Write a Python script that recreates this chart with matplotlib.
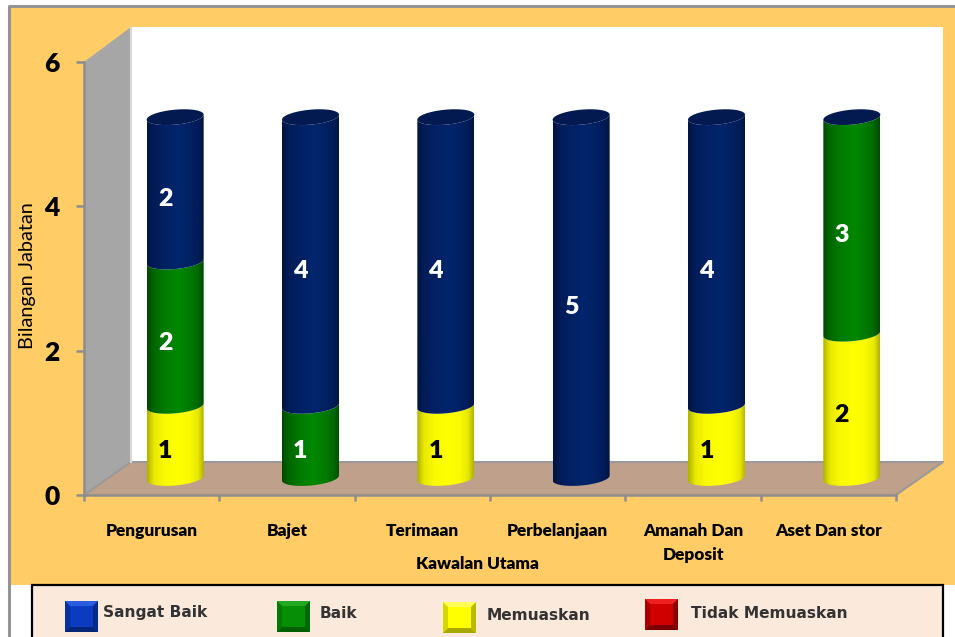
import numpy as np
import matplotlib
matplotlib.use("Agg")
import matplotlib.pyplot as plt
from matplotlib.patches import Polygon, Rectangle, PathPatch
from matplotlib.path import Path
from matplotlib.colors import LinearSegmentedColormap

categories = ["Pengurusan", "Bajet", "Terimaan", "Perbelanjaan", "Amanah Dan\nDeposit", "Aset Dan stor"]
memuaskan = [1, 0, 1, 0, 1, 2]
baik = [2, 1, 0, 0, 0, 3]
sangat_baik = [2, 4, 4, 5, 4, 0]
tidak_memuaskan = [0, 0, 0, 0, 0, 0]
y_ticks = [0, 2, 4, 6]
legend_labels = ["Sangat Baik", "Baik", "Memuaskan", "Tidak Memuaskan"]

W, H = 955, 637
FONT = "Lato"
ORANGE = "#FFCC66"
GREY = "#8E8E8E"

fig = plt.figure(figsize=(W / 100, H / 100), dpi=100, facecolor="white")

def fx(px): return px / W
def fy(py): return 1 - py / H

bg = fig.add_axes([0, 0, 1, 1], zorder=0)
bg.set_xlim(0, W); bg.set_ylim(H, 0); bg.axis("off")
bg.add_patch(Rectangle((9, 6), W, 579, fc=ORANGE, ec="none"))
bg.plot([9, 9, W], [H, 6, 6], color="#949494", lw=2.2, solid_capstyle="butt")

# chart axes: front plane of the 3-D box
L, R, B, T = 84, 896, 495, 62
ax = fig.add_axes([fx(L), fy(B), (R - L) / W, (B - T) / H], zorder=1)
ax.set_xlim(0, 6)
ax.set_ylim(0, 6)
ax.patch.set_visible(False)
px_x = (R - L) / 6
px_y = (B - T) / 6
DX, DY = 47 / px_x, 33 / px_y      # depth of the box
TOPY = 6 + 35 / px_y               # top of the back wall

# walls
ax.add_patch(Polygon([(DX, DY), (6 + DX, DY), (6 + DX, TOPY), (DX, TOPY)],
                     fc="white", ec="none", clip_on=False, zorder=1))
ax.add_patch(Polygon([(0, 0), (DX, DY), (DX, TOPY), (0, 6)],
                     fc="#A6A6A6", ec="none", clip_on=False, zorder=2))
ax.add_patch(Polygon([(0, 0), (DX, DY), (6 + DX, DY), (6, 0)],
                     fc="#BFA08A", ec="none", clip_on=False, zorder=2))
ax.plot([0, DX, 6 + DX, 6], [0, DY, DY, 0], color="#9A9A9A", lw=1.5, clip_on=False, zorder=3)
ax.plot([DX, DX], [DY, TOPY], color="#D8D8D8", lw=1.5, clip_on=False, zorder=3)

# cylinders
HALF = 28.5 / px_x
RY = 7.5 / px_y
TILT = 2.5 / px_y
OX, OY = 23.5 / px_x, 17 / px_y
t = np.linspace(0, np.pi, 60)

def cmap_for(edge, near, mid, hi):
    return LinearSegmentedColormap.from_list(
        "c", [(0, edge), (0.12, near), (0.3, mid), (0.55, hi), (0.75, mid), (0.9, near), (1, edge)])

STY = {
    "s": cmap_for("#011440", "#011C58", "#022163", "#03256E"),
    "b": cmap_for("#004A00", "#006800", "#007A00", "#008800"),
    "m": cmap_for("#B0B000", "#E8E800", "#FAFA00", "#FFFF00"),
}
TXT = {"s": "white", "b": "white", "m": "black"}
grad = np.linspace(0, 1, 128).reshape(1, -1)

def arc(cx, cy):
    # lower half of a slightly tilted ellipse, left to right
    xs = cx - HALF * np.cos(t)
    ys = cy - RY * np.sin(t) - TILT * np.cos(t)
    return xs, ys

for i in range(len(categories)):
    cx = i + 0.5 + OX
    base = 0
    for key, v in (("m", memuaskan[i]), ("b", baik[i]), ("s", sangat_baik[i])):
        if v == 0:
            continue
        y0 = OY + base
        y1 = OY + base + v
        xa, ya = arc(cx, y0)
        xb, yb = arc(cx, y1)
        verts = np.column_stack([np.r_[xa, xb[::-1]], np.r_[ya, yb[::-1]]])
        img = ax.imshow(grad, cmap=STY[key], extent=[cx - HALF, cx + HALF, y0 - 1, y1 + 1],
                        aspect="auto", zorder=5 + base * 0.01)
        img.set_clip_path(PathPatch(Path(verts), transform=ax.transData))
        ax.annotate(str(v), (cx, (y0 + y1) / 2), xytext=(-7.2, -6.6), textcoords="offset points",
                    ha="center", va="center", fontsize=18, fontweight="heavy", family=FONT,
                    color=TXT[key], zorder=8)
        base += v
    top = OY + base
    th = np.linspace(0, 2 * np.pi, 100)
    ax.add_patch(Polygon(np.column_stack([cx + HALF * np.cos(th),
                                          top + RY * np.sin(th) + TILT * np.cos(th)]),
                         fc="#021A50", ec="none", zorder=7, clip_on=False))

ax.set_xlim(0, 6)
ax.set_ylim(0, 6)

# axes furniture
for s in ("top", "right"):
    ax.spines[s].set_visible(False)
for s in ("left", "bottom"):
    ax.spines[s].set_color(GREY)
    ax.spines[s].set_linewidth(1.8)
    ax.spines[s].set_zorder(4)
ax.set_yticks(y_ticks)
ax.set_yticklabels([str(v) for v in y_ticks], fontsize=19, fontweight="heavy", family=FONT)
ax.tick_params(axis="y", length=5.5, width=1.8, color=GREY, pad=12, labelcolor="black")
ax.set_xticks(np.arange(0, 7))
ax.set_xticklabels([])
ax.tick_params(axis="x", which="major", length=4, width=1.8, color=GREY)
ax.set_xticks(np.arange(6) + 0.5, minor=True)
ax.set_xticklabels(categories, minor=True, fontsize=12.4, fontweight="heavy", family=FONT,
                   linespacing=1.6)
ax.tick_params(axis="x", which="minor", length=0, pad=20.5, labelcolor="black")
ax.set_ylabel("Bilangan Jabatan", fontsize=14.3, family=FONT)
ax.yaxis.set_label_coords((36 - L) / (R - L), 0.506, transform=ax.transAxes)
ax.set_xlabel("Kawalan Utama", fontsize=12.4, fontweight="heavy", family=FONT)
ax.xaxis.set_label_coords(0.484, -0.142, transform=ax.transAxes)
ax.xaxis.label.set_va("top")

# legend panel
lg = fig.add_axes([0, 0, 1, 1], zorder=2)
lg.set_xlim(0, W); lg.set_ylim(H, 0); lg.axis("off")
lg.add_patch(Rectangle((32, 585), 911, 60, fc="#FBE9DC", ec="black", lw=1.6))

def bevel(x, y, w, h, base, light, dark):
    b = 5
    lg.add_patch(Rectangle((x, y), w, h, fc=base, ec="none"))
    lg.add_patch(Polygon([(x, y), (x + w, y), (x + w - b, y + b), (x + b, y + b)], fc=light, ec="none"))
    lg.add_patch(Polygon([(x, y + h), (x + w, y + h), (x + w - b, y + h - b), (x + b, y + h - b)], fc=dark, ec="none"))
    lg.add_patch(Polygon([(x + w, y), (x + w, y + h), (x + w - b, y + h - b), (x + w - b, y + b)], fc=dark, ec="none", alpha=.8))
    lg.add_patch(Polygon([(x, y), (x, y + h), (x + b, y + h - b), (x + b, y + b)], fc=dark, ec="none", alpha=.45))

swatches = [(65, 601, "#0A3BC0", "#2A5BE0", "#052678"),
            (277, 601, "#068F06", "#22A822", "#035F03"),
            (443, 602, "#FFFF00", "#FFFF55", "#A8A800"),
            (645, 599, "#D00000", "#F02020", "#7A0000")]
text_pos = [(103, 613), (320, 613), (487, 615), (691, 613)]
for (x, y, c, li, da), (tx, ty), label in zip(swatches, text_pos, legend_labels):
    bevel(x, y, 33, 31, c, li, da)
    lg.text(tx, ty, label, fontsize=11.1, fontweight="bold", family="DejaVu Sans",
            color="#333333", va="center", ha="left")

fig.savefig("out.png", dpi=100, facecolor="white")
